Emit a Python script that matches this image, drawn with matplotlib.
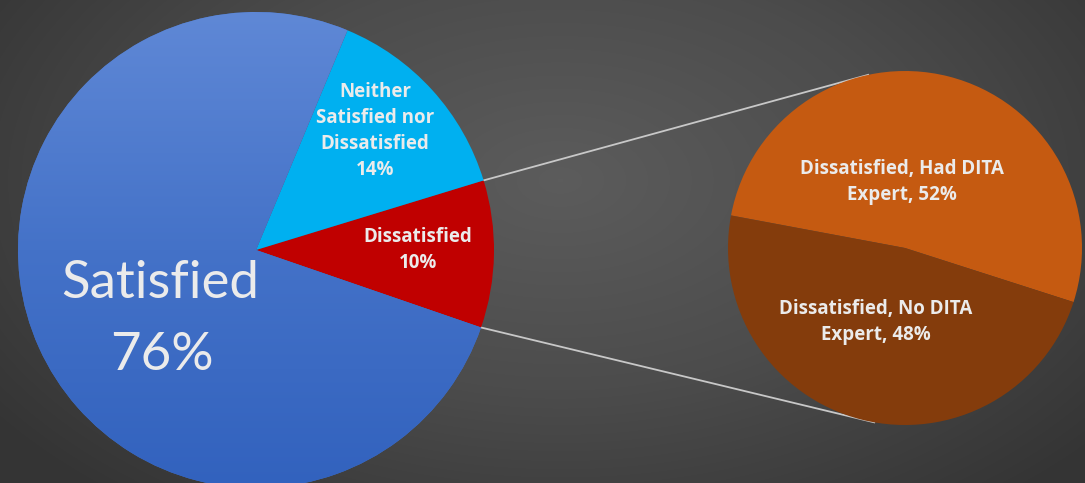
import numpy as np
import matplotlib
matplotlib.use("Agg")
import matplotlib.pyplot as plt
from matplotlib.colors import LinearSegmentedColormap

# ---- data ----
main_labels = ["Dissatisfied", "Neither\nSatisfied nor\nDissatisfied", "Satisfied"]
main_values = [10, 14, 76]
main_colors = ["#C00000", "#00B0F0", "#4472C4"]

sub_labels = ["Dissatisfied, Had DITA\nExpert", "Dissatisfied, No DITA\nExpert"]
sub_values = [52, 48]
sub_colors = ["#C55A11", "#843C0C"]

W, H = 1085, 483
fig = plt.figure(figsize=(W / 100, H / 100), dpi=100)
ax = fig.add_axes([0, 0, 1, 1])


def fix_axes():
    ax.set_xlim(0, W)
    ax.set_ylim(H, 0)
    ax.set_aspect("equal")
    ax.axis("off")


fix_axes()

# background radial gradient
yy, xx = np.mgrid[0:H, 0:W]
d = np.sqrt(((xx - 560) / 700.0) ** 2 + ((yy - 180) / 420.0) ** 2)
bg_cmap = LinearSegmentedColormap.from_list("bg", ["#5c5c5c", "#4c4c4c", "#343434"])
ax.imshow(np.clip(d, 0, 1), cmap=bg_cmap, vmin=0, vmax=1, extent=(0, W, H, 0),
          zorder=0, interpolation="bilinear")

# main pie (y axis inverted)
c1 = (256, 250)
r1 = 238
w1, _ = ax.pie(main_values, colors=main_colors, startangle=19, counterclock=False,
               center=c1, radius=r1, frame=True, wedgeprops=dict(linewidth=0))
fix_axes()

# blue gradient on satisfied wedge
grad = np.linspace(0, 1, 256).reshape(-1, 1)
blue_cmap = LinearSegmentedColormap.from_list("bl", ["#5F88D6", "#4472C8", "#3262BE"])
im = ax.imshow(grad, cmap=blue_cmap, extent=(c1[0] - r1, c1[0] + r1, c1[1] + r1, c1[1] - r1),
               zorder=w1[2].get_zorder() + 0.1, interpolation="bilinear", aspect="auto")
im.set_clip_path(w1[2])
fix_axes()

# sub pie
c2 = (905, 248)
r2 = 177
w2, _ = ax.pie(sub_values, colors=sub_colors, startangle=17.8, counterclock=False,
               center=c2, radius=r2, frame=True, wedgeprops=dict(linewidth=0))
fix_axes()

# connector lines from the dissatisfied wedge edges to the sub pie top/bottom
dw = w1[0]
t_a, t_b = np.deg2rad(dw.theta1), np.deg2rad(dw.theta2)
p_a = (c1[0] + r1 * np.cos(t_a), c1[1] + r1 * np.sin(t_a))
p_b = (c1[0] + r1 * np.cos(t_b), c1[1] + r1 * np.sin(t_b))
ta = np.deg2rad(-102)
tb = np.deg2rad(100)
q_top = (c2[0] + r2 * np.cos(ta), c2[1] + r2 * np.sin(ta))
q_bot = (c2[0] + r2 * np.cos(tb), c2[1] + r2 * np.sin(tb))
top_p, bot_p = (p_a, p_b) if p_a[1] < p_b[1] else (p_b, p_a)
ax.plot([top_p[0], q_top[0]], [top_p[1], q_top[1]], color="#C8C8C8", lw=1.3, zorder=0.5)
ax.plot([bot_p[0], q_bot[0]], [bot_p[1], q_bot[1]], color="#C8C8C8", lw=1.3, zorder=0.5)

txt = "#EBEBEB"
fam = ["Lato", "DejaVu Sans"]
bfam = ["Open Sans", "DejaVu Sans"]
ax.text(160, 283, main_labels[2], color=txt, fontsize=38, ha="center", va="center",
        family=fam, zorder=10)
ax.text(162, 356, f"{main_values[2]}%", color=txt, fontsize=38, ha="center", va="center",
        family=fam, zorder=10)
kw = dict(color=txt, fontsize=13.5, fontweight="bold", ha="center", va="center",
          family=bfam, linespacing=1.4, zorder=10)
ax.text(375, 131, f"{main_labels[1]}\n{main_values[1]}%", **kw)
ax.text(418, 250, f"{main_labels[0]}\n{main_values[0]}%", **kw)
ax.text(902, 182, f"{sub_labels[0]}, {sub_values[0]}%", **kw)
ax.text(876, 322, f"{sub_labels[1]}, {sub_values[1]}%", **kw)

fig.savefig("out.png", dpi=100)
